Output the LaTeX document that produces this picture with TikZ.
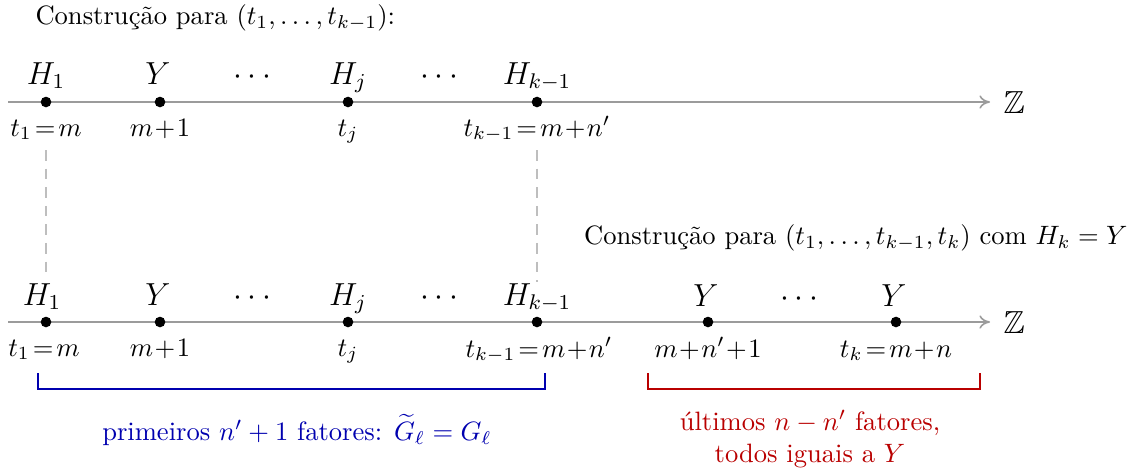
\documentclass[tikz,border=0pt]{standalone}
\usepackage{amssymb}
\usepackage{amsmath}
\usetikzlibrary{arrows.meta}
\definecolor{axisgray}{RGB}{155,155,155}
\definecolor{dashgray}{RGB}{190,190,190}
\definecolor{bblue}{RGB}{0,0,175}
\definecolor{rred}{RGB}{185,0,0}
\begin{document}
\begin{tikzpicture}[x=0.013228cm,y=-0.013228cm,
  pt/.style={circle,fill=black,inner sep=0pt,minimum size=4pt},
  axis/.style={draw=axisgray,line width=0.6pt,-{To[length=4pt,width=5pt]}},
  lab/.style={inner sep=0pt,anchor=base},
  top/.style={inner sep=0pt,anchor=base,font=\large},
  txt/.style={inner sep=0pt},
  guide/.style={draw=dashgray,line width=0.4pt,dash pattern=on 4pt off 3pt},
  brace/.style={line width=1.1pt}]
\useasboundingbox (0,0) rectangle (1134,470);

% ---------- top line ----------
\node[txt,anchor=west] (title1) at (35,18) {Construção para $(t_1,\ldots,t_{k-1})$:};
\coordinate (a1s) at (8,102);
\coordinate (a1e) at (990,102);
\draw[axis] (a1s) -- (a1e);
\node[txt,anchor=west,font=\large] (z1) at (1003,103) {$\mathbb{Z}$};

\node[pt] (p11) at (46,102) {};
\node[pt] (p12) at (160,102) {};
\node[pt] (p13) at (348,102) {};
\node[pt] (p14) at (537,102) {};

\node[top] (h11) at (46,84) {$H_1$};
\node[top] (h12) at (158,84) {$Y$};
\node[top] (d11) at (255,84) {$\cdots$};
\node[top] (h13) at (348,84) {$H_j$};
\node[top] (d12) at (442,84) {$\cdots$};
\node[top] (h14) at (537,84) {$H_{k-1}$};

\node[lab] (b11) at (46,136) {$t_1\!=\!m$};
\node[lab] (b12) at (160,136) {$m\!+\!1$};
\node[lab] (b13) at (348,136) {$t_j$};
\node[lab] (b14) at (537,136) {$t_{k-1}\!=\!m\!+\!n'$};

% ---------- dashed guides ----------
\coordinate (g1s) at (46,150);
\coordinate (g1e) at (46,272);
\coordinate (g2s) at (537,150);
\coordinate (g2e) at (537,282);
\draw[guide] (g1s) -- (g1e);
\draw[guide] (g2s) -- (g2e);

% ---------- bottom line ----------
\node[txt,anchor=east] (title2) at (1128,238) {Construção para $(t_1,\ldots,t_{k-1},t_k)$ com $H_k=Y$};
\coordinate (a2s) at (8,322);
\coordinate (a2e) at (990,322);
\draw[axis] (a2s) -- (a2e);
\node[txt,anchor=west,font=\large] (z2) at (1003,323) {$\mathbb{Z}$};

\node[pt] (p21) at (46,322) {};
\node[pt] (p22) at (160,322) {};
\node[pt] (p23) at (348,322) {};
\node[pt] (p24) at (537,322) {};
\node[pt] (p25) at (708,322) {};
\node[pt] (p26) at (896,322) {};

\node[top] (h21) at (42,305) {$H_1$};
\node[top] (h22) at (158,305) {$Y$};
\node[top] (d21) at (255,305) {$\cdots$};
\node[top] (h23) at (348,305) {$H_j$};
\node[top] (d22) at (442,305) {$\cdots$};
\node[top] (h24) at (537,305) {$H_{k-1}$};
\node[top] (h25) at (706,306) {$Y$};
\node[top] (d23) at (802,306) {$\cdots$};
\node[top] (h26) at (894,306) {$Y$};

\node[lab] (b21) at (44,356) {$t_1\!=\!m$};
\node[lab] (b22) at (160,356) {$m\!+\!1$};
\node[lab] (b23) at (348,356) {$t_j$};
\node[lab] (b24) at (539,357) {$t_{k-1}\!=\!m\!+\!n'$};
\node[lab] (b25) at (708,357) {$m\!+\!n'\!+\!1$};
\node[lab] (b26) at (896,357) {$t_k\!=\!m\!+\!n$};

% ---------- brackets ----------
\coordinate (bl1) at (38,373);
\coordinate (bl2) at (38,389);
\coordinate (bl3) at (545,389);
\coordinate (bl4) at (545,373);
\draw[brace,bblue] (bl1) -- (bl2) -- (bl3) -- (bl4);
\node[txt,text=bblue] (lblue) at (297,430) {primeiros $n'+1$ fatores: $\widetilde{G}_\ell = G_\ell$};

\coordinate (rl1) at (648,373);
\coordinate (rl2) at (648,389);
\coordinate (rl3) at (980,389);
\coordinate (rl4) at (980,373);
\draw[brace,rred] (rl1) -- (rl2) -- (rl3) -- (rl4);
\node[txt,text=rred,align=center] (lred) at (810,439) {últimos $n-n'$ fatores,\\todos iguais a $Y$};
\end{tikzpicture}
\end{document}
